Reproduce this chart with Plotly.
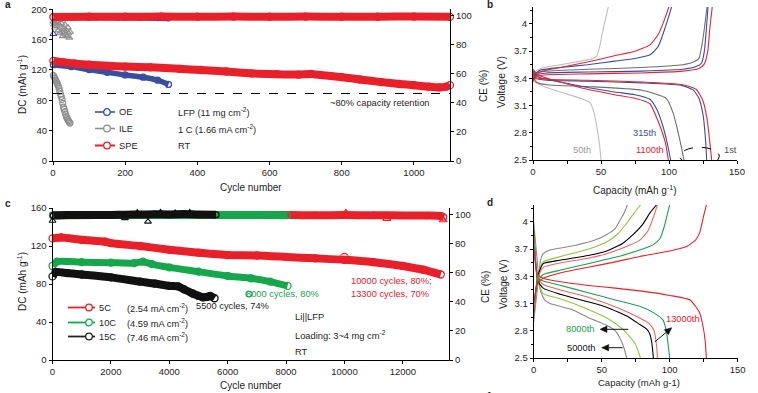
import math
import plotly.graph_objects as go

W, H = 758, 393
FONT = "Liberation Sans, Arial, sans-serif"
TXT = "#1e1e1e"

RED = "#e8202a"
BLUE = "#3a4ea0"
GREY = "#8f8f8f"
GREEN = "#16a64b"
BLACK = "#111111"

# ---------------- Panel a : cycling, LFP 11 mg cm-2 ----------------
A_OE_CYC = [1, 50, 100, 150, 200, 250, 290, 320]
A_OE_DC = [127, 124.5, 120.5, 117, 113.5, 110.5, 106.5, 101]
A_OE_CE_CYC = [5, 60, 120, 180, 240, 290, 320]
A_OE_CE = [98.9, 99.0, 99.0, 98.9, 98.8, 98.5, 98.3]
A_OE_CE1_CYC = [1]
A_OE_CE1 = [87.5]

A_ILE_CYC = [1, 3, 5, 7, 9, 11, 13, 15, 17, 19, 21, 23, 25, 27, 29, 31, 33, 35, 37, 39, 41, 43, 45, 47]
A_ILE_DC = [113, 111, 109, 107, 105, 103, 101, 98.5, 96, 92, 88, 85, 81, 76, 71, 68, 65, 61.5, 58.5, 56.5, 54.5, 53, 51.5, 50]
A_ILE_CE = [96, 94, 92, 95, 97, 93, 96, 90, 94, 88, 92, 95, 89, 86, 91, 88, 94, 87, 90, 86, 92, 88, 85, 89]

A_SPE_CYC = [1, 30, 60, 100, 150, 200, 270, 350, 410, 480, 550, 620, 680, 715, 740, 800, 850, 910, 960, 1000, 1040, 1070, 1090, 1100]
A_SPE_DC = [132, 130, 128.5, 127, 125.5, 124.5, 123.5, 121.5, 120, 118, 115.5, 114.5, 114, 114.8, 113.5, 110.5, 107.5, 104, 101.5, 100, 98, 97, 98, 100]
A_SPE_CE_CYC = [1, 100, 200, 300, 400, 500, 600, 700, 800, 900, 1000, 1100]
A_SPE_CE = [99.2, 99.4, 99.4, 99.5, 99.4, 99.5, 99.4, 99.5, 99.4, 99.4, 99.5, 99.3]
A_RETENTION_DC = 89

# ---------------- Panel b : voltage profiles ----------------
B_ILE50_CHG_CAP = [0, 2, 8, 20, 35, 44, 47, 49, 52, 55.4]
B_ILE50_CHG_V = [3.40, 3.48, 3.52, 3.55, 3.59, 3.62, 3.65, 3.75, 3.97, 4.19]
B_ILE50_DIS_CAP = [0, 2, 5, 20, 35, 42, 45, 47, 49, 50]
B_ILE50_DIS_V = [3.46, 3.38, 3.33, 3.25, 3.18, 3.13, 3.02, 2.86, 2.66, 2.5]

B_ILE1_CHG_CAP = [0, 2, 10, 40, 80, 110, 118, 122, 124, 126, 128]
B_ILE1_CHG_V = [3.40, 3.46, 3.48, 3.50, 3.52, 3.55, 3.58, 3.62, 3.75, 3.95, 4.19]
B_ILE1_DIS_CAP = [0, 2, 10, 40, 80, 98, 103, 106, 109, 111]
B_ILE1_DIS_V = [3.45, 3.36, 3.33, 3.31, 3.27, 3.18, 3.02, 2.85, 2.65, 2.5]

B_OE1_CHG_CAP = [0, 2, 10, 40, 80, 110, 120, 124, 126, 127.5, 128.7]
B_OE1_CHG_V = [3.38, 3.44, 3.46, 3.47, 3.48, 3.50, 3.53, 3.57, 3.70, 3.95, 4.19]
B_OE1_DIS_CAP = [0, 2, 10, 40, 80, 110, 118, 122, 125, 127, 127.7]
B_OE1_DIS_V = [3.46, 3.40, 3.38, 3.37, 3.35, 3.32, 3.27, 3.18, 3.0, 2.7, 2.5]

B_SPE1_CHG_CAP = [0, 2, 10, 40, 80, 110, 122, 126, 128.5, 130, 131.8]
B_SPE1_CHG_V = [3.37, 3.42, 3.44, 3.45, 3.46, 3.48, 3.51, 3.56, 3.70, 3.95, 4.19]
B_SPE1_DIS_CAP = [0, 2, 10, 40, 80, 110, 120, 125, 128, 130, 131.4]
B_SPE1_DIS_V = [3.47, 3.41, 3.39, 3.38, 3.36, 3.33, 3.28, 3.15, 2.95, 2.7, 2.5]

B_OE315_CHG_CAP = [0, 2, 5, 20, 40, 60, 75, 86, 92, 97, 102]
B_OE315_CHG_V = [3.38, 3.45, 3.49, 3.52, 3.55, 3.59, 3.62, 3.66, 3.75, 3.95, 4.19]
B_OE315_DIS_CAP = [0, 2, 5, 20, 40, 60, 75, 86, 91, 95, 98.5, 101.2]
B_OE315_DIS_V = [3.48, 3.44, 3.41, 3.36, 3.30, 3.25, 3.22, 3.17, 3.06, 2.90, 2.70, 2.5]

B_SPE1100_CHG_CAP = [0, 2, 5, 20, 40, 60, 75, 86, 92, 96, 100]
B_SPE1100_CHG_V = [3.36, 3.42, 3.47, 3.52, 3.58, 3.65, 3.70, 3.77, 3.88, 4.02, 4.19]
B_SPE1100_DIS_CAP = [0, 2, 5, 20, 40, 60, 75, 86, 90, 94, 97.5, 99.5]
B_SPE1100_DIS_V = [3.50, 3.46, 3.43, 3.36, 3.28, 3.22, 3.18, 3.12, 3.0, 2.85, 2.68, 2.5]

# ---------------- Panel c : long cycling ----------------
C_5C_CYC = [1, 300, 1000, 1800, 2000, 3000, 4000, 5000, 6000, 7000, 8000, 9000, 10000, 11000, 12000, 12700, 13300]
C_5C_DC = [128, 129, 126.5, 124.5, 123, 120, 116, 113, 110.5, 110, 108.5, 107, 105.5, 103, 99, 95, 90]
C_5C_DC_OUT_CYC = [10000]
C_5C_DC_OUT = [108]
C_5C_CE_CYC = [1, 1500, 3000, 4500, 6000, 7500, 8100, 9000, 10000, 11000, 12000, 12800, 13300, 13400]
C_5C_CE = [99.8, 100, 100, 100, 100, 100, 99.9, 99.8, 99.9, 99.8, 99.7, 99.6, 99.3, 98.5]
C_5C_CE_OUT_CYC = [10050, 11450, 13380]
C_5C_CE_OUT = [101.5, 97.5, 96.5]

C_10C_CYC = [1, 150, 1000, 2000, 2800, 3100, 3400, 4000, 5000, 6000, 6800, 7450, 8050]
C_10C_DC = [99, 103.5, 103, 102.5, 102, 103.5, 101, 97.5, 93, 88.5, 86, 82.5, 78]
C_10C_DC_OUT_CYC = [6730]
C_10C_DC_OUT = [69.5]
C_10C_CE_CYC = [1, 1500, 3000, 4500, 5600, 6400, 7200, 8050]
C_10C_CE = [99.8, 100, 100, 100, 100, 99.9, 100, 99.8]

C_15C_CYC = [1, 100, 500, 1000, 2000, 3000, 3500, 4000, 4300, 4500, 4800, 5000, 5150, 5300, 5400, 5550]
C_15C_DC = [88, 92.5, 91.5, 90, 87, 82.5, 80.5, 78, 77.5, 74.5, 70, 67.5, 66, 66.5, 67.5, 65]
C_15C_CE_CYC = [30, 500, 1000, 1500, 2000, 2500, 3000, 3500, 4000, 4500, 5000, 5600]
C_15C_CE = [99.6, 99.9, 100, 99.9, 100, 100.2, 100.3, 100.5, 100.4, 100.6, 100.3, 100.2]
C_15C_CE_OUT_CYC = [1, 2480, 3270, 2900, 3700, 4200, 4700]
C_15C_CE_OUT = [96, 97.8, 95.4, 101.6, 101.8, 101.5, 101.7]

# ---------------- Panel d : voltage profiles at high rate ----------------
D_15C5000_CHG_CAP = [0, 3, 5, 7, 12, 30, 45, 53.5, 60, 63.5, 66.5, 68.9]
D_15C5000_CHG_V = [2.9, 3.3, 3.58, 3.65, 3.69, 3.74, 3.80, 3.86, 3.93, 4.02, 4.10, 4.19]
D_15C5000_DIS_CAP = [0, 3, 5, 8, 12, 29, 41, 53.6, 60, 64.7, 67, 68.4]
D_15C5000_DIS_V = [4.0, 3.5, 3.24, 3.14, 3.10, 3.03, 2.94, 2.86, 2.80, 2.68, 2.58, 2.5]

D_10C8000_CHG_CAP = [0, 3, 7, 20, 40, 53.6, 62, 68, 74, 78.7]
D_10C8000_CHG_V = [3.0, 3.4, 3.56, 3.62, 3.70, 3.78, 3.87, 3.98, 4.10, 4.19]
D_10C8000_DIS_CAP = [0, 3, 7, 20, 41, 55, 66, 74.5, 77, 78.5]
D_10C8000_DIS_V = [3.9, 3.35, 3.21, 3.15, 3.03, 2.93, 2.81, 2.66, 2.57, 2.5]

D_15C1_CHG_CAP = [0, 3, 7, 20, 40, 53.6, 65, 73, 80, 85.5, 90.4]
D_15C1_CHG_V = [3.0, 3.4, 3.54, 3.58, 3.63, 3.68, 3.76, 3.86, 3.97, 4.10, 4.19]
D_15C1_DIS_CAP = [0, 3, 7, 20, 40, 53.6, 70, 78, 83, 85.5, 87, 88]
D_15C1_DIS_V = [3.9, 3.35, 3.27, 3.20, 3.12, 3.06, 2.95, 2.87, 2.82, 2.76, 2.65, 2.5]

D_5C13000_CHG_CAP = [0, 3, 7, 20, 40, 53.6, 70, 78, 84, 88, 91]
D_5C13000_CHG_V = [3.0, 3.38, 3.50, 3.55, 3.60, 3.65, 3.74, 3.80, 3.90, 4.05, 4.19]
D_5C13000_DIS_CAP = [0, 3, 7, 20, 40, 53.6, 70, 78, 85, 88.5, 90.4, 91]
D_5C13000_DIS_V = [3.9, 3.38, 3.31, 3.25, 3.17, 3.10, 3.0, 2.94, 2.88, 2.80, 2.63, 2.5]

D_10C1_CHG_CAP = [0, 3, 7, 20, 40, 60, 78, 88, 93, 96, 98.5, 100]
D_10C1_CHG_V = [3.1, 3.35, 3.42, 3.47, 3.54, 3.61, 3.69, 3.75, 3.82, 3.95, 4.10, 4.19]
D_10C1_DIS_CAP = [0, 3, 7, 20, 40, 60, 78, 88, 95, 97.5, 99, 100]
D_10C1_DIS_V = [3.8, 3.38, 3.35, 3.30, 3.22, 3.14, 3.07, 3.0, 2.92, 2.80, 2.63, 2.5]

D_5C1_CHG_CAP = [0, 3, 7, 20, 40, 60, 78, 100, 112.5, 119, 122, 124.7, 127]
D_5C1_CHG_V = [3.1, 3.33, 3.38, 3.44, 3.50, 3.56, 3.62, 3.68, 3.73, 3.80, 3.88, 4.05, 4.19]
D_5C1_DIS_CAP = [0, 3, 7, 20, 40, 60, 78, 100, 115, 122, 124.5, 126, 127]
D_5C1_DIS_V = [3.7, 3.42, 3.38, 3.34, 3.30, 3.27, 3.24, 3.19, 3.14, 3.0, 2.85, 2.7, 2.5]

# ---------------- tick labels ----------------
A_X_TICKS = [0, 200, 400, 600, 800, 1000]
A_Y_TICKS = [0, 40, 80, 120, 160, 200]
CE_TICKS = [0, 20, 40, 60, 80, 100]
C_X_TICKS = [0, 2000, 4000, 6000, 8000, 10000, 12000]
C_X_TICKTEXT = ["0", "2000", "4000", "6000", "8000", "10000", "12000"]
C_Y_TICKS = [0, 40, 80, 120, 160]
CAP_TICKS = [0, 50, 100, 150]
CAP_MINOR = [25, 75, 125]
V_TICKS = [2.5, 2.8, 3.1, 3.4, 3.7, 4.0]
V_TICKTEXT = ["2.5", "2.8", "3.1", "3.4", "3.7", "4"]
V_MINOR = [2.65, 2.95, 3.25, 3.55, 3.85, 4.15]


def px(x):
    return x / W


def py(y):
    return 1 - y / H


fig = go.Figure()


def band(x, y, color, width, xa, ya, msize=7):
    fig.add_trace(go.Scatter(
        x=x, y=y, mode="lines+markers", xaxis=xa, yaxis=ya,
        line=dict(color=color, width=width, shape="spline", smoothing=0.6),
        marker=dict(symbol="circle-open", size=msize, color=color, line=dict(width=1.3)),
        showlegend=False, hoverinfo="skip", cliponaxis=False))


def pts(x, y, color, symbol, size, xa, ya):
    fig.add_trace(go.Scatter(
        x=x, y=y, mode="markers", xaxis=xa, yaxis=ya,
        marker=dict(symbol=symbol, size=size, color=color, line=dict(width=1.1)),
        showlegend=False, hoverinfo="skip", cliponaxis=False))


def curve(x, y, color, xa, ya, width=1.1):
    fig.add_trace(go.Scatter(
        x=x, y=y, mode="lines", xaxis=xa, yaxis=ya,
        line=dict(color=color, width=width, shape="spline", smoothing=0.5),
        showlegend=False, hoverinfo="skip"))


# ---- panel a traces ----
fig.add_trace(go.Scatter(
    x=A_ILE_CYC, y=A_ILE_DC, mode="markers", xaxis="x", yaxis="y",
    marker=dict(symbol="circle-open", size=6, color=GREY, line=dict(width=1.2)),
    showlegend=False, hoverinfo="skip", cliponaxis=False))
band(A_OE_CYC, A_OE_DC, BLUE, 5.5, "x", "y", 6)
band(A_SPE_CYC, A_SPE_DC, RED, 8, "x", "y", 7)
pts(A_ILE_CYC, A_ILE_CE, GREY, "triangle-up-open", 6, "x", "y2")
pts(A_OE_CE1_CYC, A_OE_CE1, BLUE, "triangle-up-open", 6, "x", "y2")
band(A_OE_CE_CYC, A_OE_CE, BLUE, 6, "x", "y2", 5)
band(A_SPE_CE_CYC, A_SPE_CE, RED, 8, "x", "y2", 7)

# ---- panel b traces ----
B_LGREY = "#bdbdbd"
B_DGREY = "#6e6e6e"
B_BLUE = "#3a4d9f"
B_RED = "#e3262f"
for cx, cy, col in [
    (B_ILE50_CHG_CAP, B_ILE50_CHG_V, B_LGREY), (B_ILE50_DIS_CAP, B_ILE50_DIS_V, B_LGREY),
    (B_ILE1_CHG_CAP, B_ILE1_CHG_V, B_DGREY), (B_ILE1_DIS_CAP, B_ILE1_DIS_V, B_DGREY),
    (B_OE315_CHG_CAP, B_OE315_CHG_V, B_BLUE), (B_OE315_DIS_CAP, B_OE315_DIS_V, B_BLUE),
    (B_OE1_CHG_CAP, B_OE1_CHG_V, B_BLUE), (B_OE1_DIS_CAP, B_OE1_DIS_V, B_BLUE),
    (B_SPE1100_CHG_CAP, B_SPE1100_CHG_V, B_RED), (B_SPE1100_DIS_CAP, B_SPE1100_DIS_V, B_RED),
    (B_SPE1_CHG_CAP, B_SPE1_CHG_V, B_RED), (B_SPE1_DIS_CAP, B_SPE1_DIS_V, B_RED),
]:
    curve(cx, cy, col, "x2", "y3")

# ---- panel c traces ----
band(C_5C_CYC, C_5C_DC, RED, 8, "x3", "y4", 7)
pts(C_5C_DC_OUT_CYC, C_5C_DC_OUT, RED, "circle-open", 8, "x3", "y4")
band(C_10C_CYC, C_10C_DC, GREEN, 7, "x3", "y4", 7)
pts(C_10C_DC_OUT_CYC, C_10C_DC_OUT, GREEN, "circle-open", 6, "x3", "y4")
band(C_15C_CYC, C_15C_DC, BLACK, 8, "x3", "y4", 7)
band(C_5C_CE_CYC, C_5C_CE, RED, 8, "x3", "y5", 6)
pts(C_5C_CE_OUT_CYC, C_5C_CE_OUT, RED, "triangle-up-open", 7, "x3", "y5")
band(C_10C_CE_CYC, C_10C_CE, GREEN, 8, "x3", "y5", 6)
band(C_15C_CE_CYC, C_15C_CE, BLACK, 8, "x3", "y5", 6)
pts(C_15C_CE_OUT_CYC, C_15C_CE_OUT, BLACK, "triangle-up-open", 6, "x3", "y5")

# ---- panel d traces ----
D_GREY = "#8a8a8a"
D_LGREEN = "#8dc63f"
D_BLACK = "#000000"
D_PINK = "#ee6464"
D_GREEN = "#1aa14e"
D_RED = "#e8202a"
for cx, cy, col in [
    (D_15C5000_CHG_CAP, D_15C5000_CHG_V, D_GREY), (D_15C5000_DIS_CAP, D_15C5000_DIS_V, D_GREY),
    (D_10C8000_CHG_CAP, D_10C8000_CHG_V, D_LGREEN), (D_10C8000_DIS_CAP, D_10C8000_DIS_V, D_LGREEN),
    (D_15C1_CHG_CAP, D_15C1_CHG_V, D_BLACK), (D_15C1_DIS_CAP, D_15C1_DIS_V, D_BLACK),
    (D_5C13000_CHG_CAP, D_5C13000_CHG_V, D_PINK), (D_5C13000_DIS_CAP, D_5C13000_DIS_V, D_PINK),
    (D_10C1_CHG_CAP, D_10C1_CHG_V, D_GREEN), (D_10C1_DIS_CAP, D_10C1_DIS_V, D_GREEN),
    (D_5C1_CHG_CAP, D_5C1_CHG_V, D_RED), (D_5C1_DIS_CAP, D_5C1_DIS_V, D_RED),
]:
    curve(cx, cy, col, "x4", "y6")

# ---------------- axes ----------------
tickfont = dict(family=FONT, size=9.5, color=TXT)
common = dict(showline=True, linecolor="#000", linewidth=1, ticks="outside", ticklen=3,
              tickcolor="#000", tickwidth=1, showgrid=False, zeroline=False, tickfont=tickfont,
              automargin=False)
minor_cap = dict(tickmode="array", tickvals=CAP_MINOR, ticks="outside", ticklen=3, tickcolor="#000")
minor_v = dict(tickmode="array", tickvals=V_MINOR, ticks="outside", ticklen=2, tickcolor="#000")

fig.update_layout(
    template="none",
    width=W, height=H, autosize=False,
    margin=dict(l=0, r=0, t=0, b=0, pad=0),
    paper_bgcolor="white", plot_bgcolor="white",
    showlegend=False,
    font=dict(family=FONT, size=9.5, color=TXT),
    xaxis=dict(domain=[px(53), px(450)], anchor="y", range=[0, 1100],
               tickmode="array", tickvals=A_X_TICKS, **common),
    yaxis=dict(domain=[py(161), py(9.3)], anchor="x", range=[0, 200],
               tickmode="array", tickvals=A_Y_TICKS, **common),
    yaxis2=dict(overlaying="y", side="right", anchor="x", range=[0, 104.5],
                tickmode="array", tickvals=CE_TICKS, **common),
    xaxis2=dict(domain=[px(533), px(737)], anchor="y3", range=[0, 150],
                tickmode="array", tickvals=CAP_TICKS, minor=minor_cap, **common),
    yaxis3=dict(domain=[py(160), py(7)], anchor="x2", range=[2.5, 4.187],
                tickmode="array", tickvals=V_TICKS, ticktext=V_TICKTEXT,
                minor=minor_v, **common),
    xaxis3=dict(domain=[px(52.5), px(449)], anchor="y4", range=[0, 13580],
                tickmode="array", tickvals=C_X_TICKS, ticktext=C_X_TICKTEXT, **common),
    yaxis4=dict(domain=[py(360), py(208)], anchor="x3", range=[0, 160],
                tickmode="array", tickvals=C_Y_TICKS, **common),
    yaxis5=dict(overlaying="y4", side="right", anchor="x3", range=[0, 104.8],
                tickmode="array", tickvals=CE_TICKS, **common),
    xaxis4=dict(domain=[px(533.7), px(737.7)], anchor="y6", range=[0, 150],
                tickmode="array", tickvals=CAP_TICKS, minor=minor_cap, **common),
    yaxis6=dict(domain=[py(358), py(205)], anchor="x4", range=[2.5, 4.187],
                tickmode="array", tickvals=V_TICKS, ticktext=V_TICKTEXT,
                minor=minor_v, **common),
)

# ---------------- shapes ----------------
shapes = []
# retention line in a
shapes.append(dict(type="line", xref="x", yref="y", x0=0, x1=1100,
                   y0=A_RETENTION_DC, y1=A_RETENTION_DC,
                   line=dict(color="#000", width=1, dash="dash")))
# dashed ellipse in b
shapes.append(dict(type="circle", xref="x2", yref="y3", x0=108, x1=137, y0=2.44, y1=2.64,
                   line=dict(color="#000", width=1, dash="dash")))


def legend_item(xl0, xl1, xc, y, color, lw=1.6):
    shapes.append(dict(type="line", xref="paper", yref="paper", x0=px(xl0), x1=px(xl1),
                       y0=py(y), y1=py(y), line=dict(color=color, width=lw)))
    r = 3.3
    shapes.append(dict(type="circle", xref="paper", yref="paper",
                       x0=px(xc - r), x1=px(xc + r), y0=py(y + r), y1=py(y - r),
                       line=dict(color=color, width=1.3), fillcolor="white"))


legend_item(95, 115, 107, 112, BLUE)
legend_item(95, 115, 107, 128.5, GREY)
legend_item(95, 115, 107, 145.5, RED, 2)
legend_item(68, 95, 89, 307.5, RED, 1.8)
legend_item(68, 95, 89, 322.5, GREEN, 1.8)
legend_item(68, 95, 89, 336.5, "#222", 1.8)


def arrow_shape(hx, hy, tx, ty, head=7.0, half=3.2):
    dx, dy = hx - tx, hy - ty
    L = math.hypot(dx, dy)
    ux, uy = dx / L, dy / L
    nx, ny = -uy, ux
    bx, by = hx - head * ux, hy - head * uy
    shapes.append(dict(type="line", xref="paper", yref="paper",
                       x0=px(tx), y0=py(ty), x1=px(bx), y1=py(by),
                       line=dict(color="#111", width=1)))
    pts_ = [(hx, hy), (bx + half * nx, by + half * ny), (bx - half * nx, by - half * ny)]
    path = "M " + " L ".join("%.5f %.5f" % (px(a), py(b)) for a, b in pts_) + " Z"
    shapes.append(dict(type="path", xref="paper", yref="paper", path=path,
                       fillcolor="#111", line=dict(color="#111", width=0.5)))


arrow_shape(600, 329.3, 628.3, 329.3)
arrow_shape(601.7, 347.7, 622.7, 347.7)
arrow_shape(671.7, 327.7, 655, 341.7)

fig.update_layout(shapes=shapes)

# ---------------- annotations ----------------
anns = []


def ann(text, x, y, xanchor="left", yanchor="middle", size=9.3, color=TXT, angle=0, bold=False):
    if bold:
        text = "<b>" + text + "</b>"
    anns.append(dict(text=text, x=px(x), y=py(y), xref="paper", yref="paper",
                     xanchor=xanchor, yanchor=yanchor, showarrow=False, textangle=angle,
                     font=dict(family=FONT, size=size, color=color)))


def dann(text, x, y, xa, ya, xanchor, color, size=9.3):
    anns.append(dict(text=text, x=x, y=y, xref=xa, yref=ya, xanchor=xanchor, yanchor="middle",
                     showarrow=False, font=dict(family=FONT, size=size, color=color)))


# panel letters
ann("a", 3, 5, bold=True, size=10)
ann("b", 485, 5, bold=True, size=10)
ann("c", 3, 203, bold=True, size=10)
ann("d", 485, 202, bold=True, size=10)
ann("e", 3, 389, yanchor="top", bold=True, size=10)
ann("f", 485, 389, yanchor="top", bold=True, size=10)

# axis titles
ann("DC (mAh g<sup>-1</sup>)", 22, 85, xanchor="center", angle=-90, size=10)
ann("CE (%)", 483, 86, xanchor="center", angle=-90, size=10)
ann("Cycle number", 251, 187.5, xanchor="center", size=10)
ann("Voltage (V)", 501, 82, xanchor="center", angle=-90, size=10.5)
ann("Capacity (mAh g<sup>-1</sup>)", 635, 190, xanchor="center", size=10)
ann("DC (mAh g<sup>-1</sup>)", 22, 282, xanchor="center", angle=-90, size=10)
ann("CE (%)", 485, 287, xanchor="center", angle=-90, size=10)
ann("Cycle number", 251, 385, xanchor="center", size=10)
ann("Voltage (V)", 503, 285, xanchor="center", angle=-90, size=10)
ann("Capacity (mAh g-1)", 639, 382.5, xanchor="center", size=9.5)

# panel a texts
ann("OE", 117, 112)
ann("ILE", 117, 128.5)
ann("SPE", 117, 145.5)
ann("LFP (11 mg cm<sup>-2</sup>)", 176, 112)
ann("1 C (1.66 mA cm<sup>-2</sup>)", 176, 128.5)
ann("RT", 176, 146)
ann("~80% capacity retention", 328, 103)

# panel c texts
ann("5C", 97, 307.5)
ann("10C", 97, 322.5)
ann("15C", 97, 336.5)
ann("(2.54 mA cm<sup>-2</sup>)", 125, 307.5)
ann("(4.59 mA cm<sup>-2</sup>)", 125, 322.5)
ann("(7.46 mA cm<sup>-2</sup>)", 125, 336.5)
ann("5500 cycles, 74%", 194, 306)
ann("8000 cycles, 80%", 321, 294, xanchor="right", color=GREEN)
ann("10000 cycles, 80%;", 349, 281, color=RED)
ann("13300 cycles, 70%", 349, 294, color=RED)
ann("Li||LFP", 293, 317)
ann("Loading: 3~4 mg cm<sup>-2</sup>", 293, 334.5)
ann("RT", 293, 351.5)

# panel b labels
dann("315th", 92.2, 2.795, "x2", "y3", "right", B_BLUE)
dann("1100th", 97.8, 2.61, "x2", "y3", "right", B_RED)
dann("50th", 44.3, 2.61, "x2", "y3", "right", "#9a9a9a")
dann("1st", 138.7, 2.61, "x2", "y3", "left", "#555555")

# panel d labels
dann("8000th", 46, 2.817, "x4", "y6", "right", D_GREEN)
dann("5000th", 46.5, 2.614, "x4", "y6", "right", "#111")
dann("13000th", 95.8, 2.927, "x4", "y6", "left", D_RED)

fig.update_layout(annotations=anns)

fig.write_html("out.html", config={"displayModeBar": False},
               post_script="document.body.style.margin='0';document.body.style.padding='0';")
